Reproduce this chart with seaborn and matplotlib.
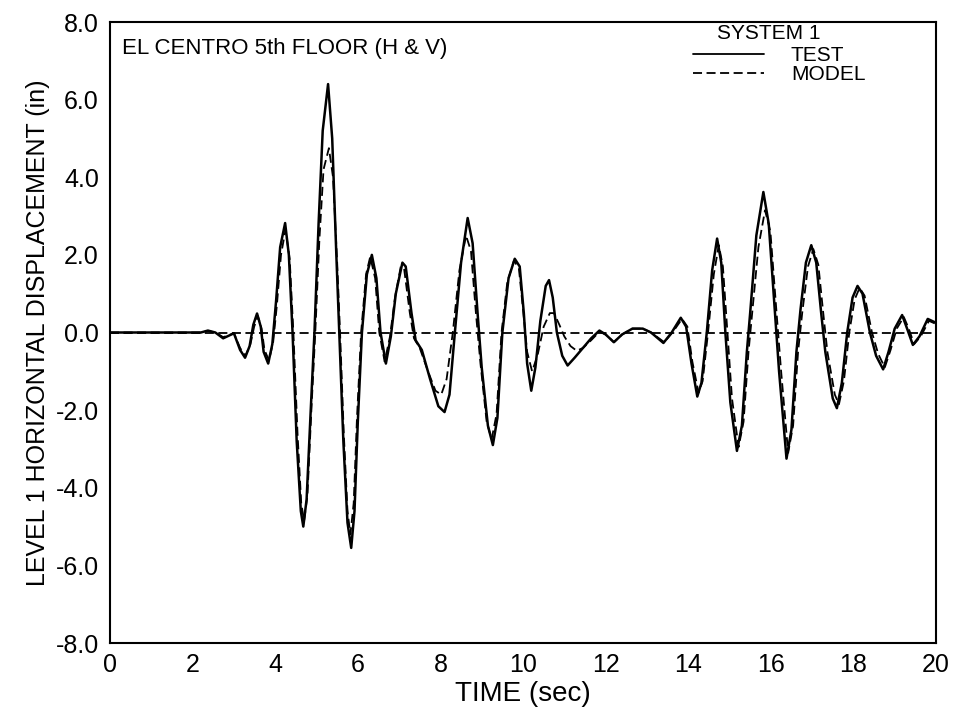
import matplotlib
matplotlib.use("Agg")
import matplotlib.pyplot as plt
import seaborn as sns
import pandas as pd
from matplotlib.lines import Line2D

# ---- data ----
test_t = [0.0, 2.2, 2.37, 2.55, 2.74, 3.0, 3.15, 3.27, 3.38, 3.47, 3.56, 3.65, 3.72, 3.83, 3.93,
          4.02, 4.12, 4.24, 4.33, 4.42, 4.52, 4.62, 4.68, 4.76, 4.86, 4.95, 5.05, 5.15, 5.28, 5.38,
          5.48, 5.55, 5.65, 5.75, 5.84, 5.92, 6.0, 6.1, 6.22, 6.34, 6.45, 6.55, 6.68, 6.8, 6.92,
          7.08, 7.16, 7.3, 7.4, 7.55, 7.75, 7.95, 8.1, 8.22, 8.35, 8.5, 8.66, 8.78, 8.9, 9.0,
          9.15, 9.27, 9.38, 9.5, 9.65, 9.8, 9.92, 10.02, 10.1, 10.2, 10.3, 10.42, 10.55, 10.63,
          10.72, 10.82, 10.95, 11.08, 11.25, 11.45, 11.65, 11.85, 12.0, 12.2, 12.4, 12.65, 12.9,
          13.1, 13.4, 13.6, 13.82, 13.95, 14.08, 14.22, 14.32, 14.45, 14.58, 14.7, 14.8, 14.9,
          15.02, 15.18, 15.3, 15.42, 15.5, 15.65, 15.82, 15.95, 16.1, 16.2, 16.38, 16.5, 16.62,
          16.72, 16.85, 16.98, 17.1, 17.22, 17.32, 17.5, 17.6, 17.72, 17.85, 17.98, 18.1, 18.22,
          18.4, 18.55, 18.72, 18.85, 19.0, 19.18, 19.3, 19.44, 19.6, 19.8, 20.0]
test_v = [0.0, 0.0, 0.05, 0.0, -0.15, -0.02, -0.45, -0.65, -0.35, 0.2, 0.49, 0.15, -0.5, -0.8, -0.3,
          0.8, 2.2, 2.82, 2.0, 0.0, -2.8, -4.6, -5.0, -4.3, -2.0, 0.0, 2.8, 5.2, 6.4, 5.0,
          2.0, 0.0, -2.8, -4.9, -5.55, -4.6, -2.3, 0.0, 1.5, 2.0, 1.4, 0.0, -0.8, -0.1, 1.0,
          1.8, 1.7, 0.5, -0.2, -0.45, -1.2, -1.9, -2.05, -1.6, 0.0, 1.8, 2.95, 2.3, 0.5, -0.9,
          -2.4, -2.9, -2.2, 0.0, 1.4, 1.9, 1.7, 0.5, -0.8, -1.5, -0.9, 0.3, 1.2, 1.35,
          0.9, 0.0, -0.6, -0.85, -0.65, -0.4, -0.15, 0.05, -0.05, -0.25, -0.05, 0.1, 0.1,
          0.0, -0.27, 0.0, 0.38, 0.15, -0.8, -1.65, -1.3, 0.0, 1.6, 2.42, 1.8, 0.0,
          -1.8, -3.05, -2.4, -0.5, 0.5, 2.5, 3.62, 2.8, 0.5, -1.0, -3.25, -2.5, -0.5,
          0.6, 1.8, 2.25, 1.8, 0.5, -0.5, -1.7, -1.95, -1.3, 0.0, 0.9, 1.2, 1.0,
          0.0, -0.6, -0.95, -0.5, 0.1, 0.45, 0.1, -0.32, -0.1, 0.35, 0.25]

model_t = [0.0, 2.2, 2.37, 2.55, 2.74, 3.0, 3.15, 3.28, 3.4, 3.49, 3.58, 3.67, 3.74, 3.85, 3.95,
           4.04, 4.14, 4.25, 4.35, 4.44, 4.54, 4.63, 4.7, 4.78, 4.88, 4.97, 5.07, 5.17, 5.3, 5.4,
           5.5, 5.57, 5.66, 5.75, 5.82, 5.9, 5.98, 6.08, 6.2, 6.3, 6.42, 6.52, 6.65, 6.78, 6.9,
           7.04, 7.12, 7.26, 7.36, 7.5, 7.7, 7.88, 8.02, 8.15, 8.3, 8.46, 8.62, 8.74, 8.86, 8.97,
           9.12, 9.24, 9.36, 9.48, 9.62, 9.78, 9.9, 10.0, 10.1, 10.22, 10.35, 10.5, 10.65, 10.75,
           10.88, 11.0, 11.15, 11.3, 11.45, 11.65, 11.85, 12.0, 12.2, 12.4, 12.65, 12.9,
           13.1, 13.42, 13.62, 13.85, 13.98, 14.1, 14.25, 14.35, 14.48, 14.62, 14.74, 14.84, 14.95,
           15.06, 15.22, 15.34, 15.46, 15.54, 15.7, 15.86, 15.99, 16.14, 16.25, 16.42, 16.54, 16.66,
           16.76, 16.9, 17.03, 17.15, 17.27, 17.37, 17.55, 17.65, 17.77, 17.9, 18.03, 18.15, 18.27,
           18.45, 18.6, 18.76, 18.9, 19.05, 19.22, 19.34, 19.47, 19.63, 19.83, 20.0]
model_v = [0.0, 0.0, 0.04, 0.0, -0.12, -0.02, -0.4, -0.6, -0.3, 0.15, 0.42, 0.1, -0.45, -0.72, -0.25,
           0.7, 2.0, 2.65, 1.9, 0.0, -2.6, -4.4, -4.85, -4.2, -1.9, 0.0, 2.4, 4.2, 4.75, 4.0,
           1.8, 0.0, -2.6, -4.6, -5.2, -4.4, -2.2, 0.0, 1.5, 1.95, 1.4, 0.0, -0.75, -0.1, 0.9,
           1.7, 1.65, 0.5, -0.15, -0.4, -1.0, -1.5, -1.6, -1.2, 0.0, 1.6, 2.5, 2.1, 0.5, -0.8,
           -2.3, -2.75, -2.1, 0.0, 1.3, 1.85, 1.65, 0.6, -0.5, -1.0, -0.6, 0.15, 0.5, 0.5,
           0.2, -0.1, -0.35, -0.47, -0.4, -0.2, 0.02, -0.05, -0.25, -0.05, 0.1, 0.1,
           0.0, -0.25, 0.0, 0.35, 0.15, -0.75, -1.55, -1.25, 0.0, 1.5, 2.25, 1.7, 0.0,
           -1.7, -2.95, -2.3, -0.5, 0.4, 2.2, 3.15, 2.6, 0.5, -1.0, -3.1, -2.4, -0.5,
           0.5, 1.7, 2.15, 1.75, 0.5, -0.5, -1.6, -1.85, -1.25, 0.0, 0.85, 1.15, 0.95,
           0.0, -0.55, -0.9, -0.45, 0.1, 0.4, 0.1, -0.3, -0.1, 0.3, 0.22]

x_ticks = [0, 2, 4, 6, 8, 10, 12, 14, 16, 18, 20]
y_ticks = [-8, -6, -4, -2, 0, 2, 4, 6, 8]
y_tick_labels = ["-8.0", "-6.0", "-4.0", "-2.0", "0.0", "2.0", "4.0", "6.0", "8.0"]

sns.set_theme(style="white")
plt.rcParams["font.family"] = ["Liberation Sans", "DejaVu Sans"]
plt.rcParams["text.color"] = "black"
plt.rcParams["legend.labelcolor"] = "black"

test_df = pd.DataFrame({"t": test_t, "v": test_v})
model_df = pd.DataFrame({"t": model_t, "v": model_v})

fig = plt.figure(figsize=(9.6, 7.19), dpi=100)
ax = fig.add_axes([0.1146, 0.1057, 0.8604, 0.8637])

dash = (0, (5, 2.5))
ax.axhline(0, color="black", lw=1.3, ls=dash, zorder=1)
sns.lineplot(data=model_df, x="t", y="v", ax=ax, color="black", lw=1.3,
             linestyle=dash, sort=False, estimator=None, zorder=2)
sns.lineplot(data=test_df, x="t", y="v", ax=ax, color="black", lw=1.8,
             sort=False, estimator=None, zorder=3)

ax.set_xlim(0, 20)
ax.set_ylim(-8, 8)
ax.set_xticks(x_ticks)
ax.set_xticklabels([str(v) for v in x_ticks])
ax.set_yticks(y_ticks)
ax.set_yticklabels(y_tick_labels)
ax.tick_params(axis="both", direction="out", length=7, width=1.2, colors="black",
               labelsize=18, pad=1)
ax.tick_params(axis="x", pad=0)
for s in ax.spines.values():
    s.set_visible(True)
    s.set_color("black")
    s.set_linewidth(1.5)

ax.set_xlabel("TIME (sec)", fontsize=20, color="black", labelpad=3)
ax.set_ylabel("LEVEL 1 HORIZONTAL DISPLACEMENT (in)", fontsize=18, color="black", labelpad=4)

ax.text(0.015, 0.975, "EL CENTRO 5th FLOOR (H & V)", transform=ax.transAxes,
        ha="left", va="top", fontsize=16, color="black")
ax.text(0.735, 0.996, "SYSTEM 1", transform=ax.transAxes,
        ha="left", va="top", fontsize=15, color="black")

handles = [Line2D([], [], color="black", lw=1.3),
           Line2D([], [], color="black", lw=1.3, ls=dash)]
leg = ax.legend(handles, ["TEST", "MODEL"], loc="upper left",
                bbox_to_anchor=(0.688, 0.985), frameon=False, fontsize=15,
                handlelength=3.4, handletextpad=1.3,
                labelspacing=0.0, borderpad=0.2, labelcolor="black")

fig.savefig("out.png", dpi=100)
